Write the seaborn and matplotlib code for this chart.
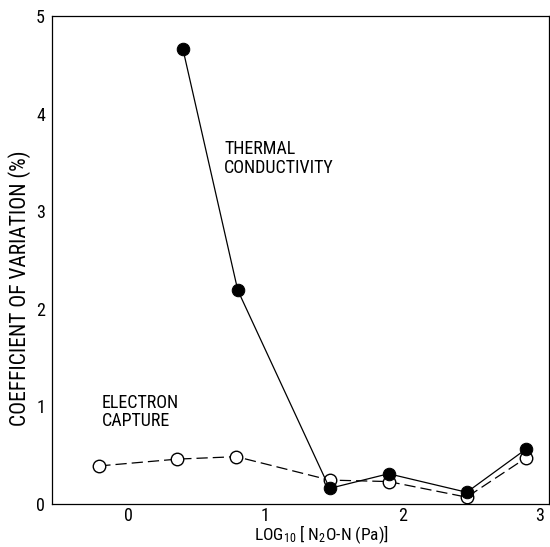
import matplotlib
matplotlib.use("Agg")
import matplotlib.pyplot as plt
import seaborn as sns
import pandas as pd

sns.set_theme(style="white")
plt.rcParams['font.family'] = ['Roboto Condensed', 'DejaVu Sans']
plt.rcParams['mathtext.fontset'] = 'custom'
plt.rcParams['mathtext.rm'] = 'Roboto Condensed'
plt.rcParams['mathtext.it'] = 'Roboto Condensed'
plt.rcParams['mathtext.default'] = 'regular'
plt.rcParams['text.color'] = 'black'

tc_x = [0.40, 0.80, 1.47, 1.90, 2.47, 2.90]
tc_y = [4.66, 2.19, 0.16, 0.31, 0.12, 0.56]
ec_x = [-0.21, 0.36, 0.79, 1.47, 1.90, 2.47, 2.90]
ec_y = [0.39, 0.46, 0.485, 0.245, 0.23, 0.07, 0.47]

xticks = [0, 1, 2, 3]
yticks = [0, 1, 2, 3, 4, 5]

tc = pd.DataFrame({"x": tc_x, "y": tc_y})
ec = pd.DataFrame({"x": ec_x, "y": ec_y})

fig = plt.figure(figsize=(5.5, 5.47), dpi=100)
ax = fig.add_axes([52/550, 1-504/547, (549-52)/550, (504-16)/547])

sns.lineplot(data=ec, x="x", y="y", ax=ax, sort=False, color="black",
             linewidth=0.9, linestyle=(0, (9, 4)), marker="o", markersize=9,
             markerfacecolor="white", markeredgecolor="black", markeredgewidth=1.0)
sns.lineplot(data=tc, x="x", y="y", ax=ax, sort=False, color="black",
             linewidth=0.9, marker="o", markersize=9,
             markerfacecolor="black", markeredgecolor="black")

ax.set_xlim(-0.555, 3.07)
ax.set_ylim(0, 5)
ax.set_xticks(xticks)
ax.set_yticks(yticks)
ax.tick_params(direction="in", length=4, width=0.8, labelsize=13, colors="black")
ax.tick_params(axis="x", pad=2)
ax.tick_params(axis="y", pad=5)
for s in ax.spines.values():
    s.set_color("black")
    s.set_linewidth(0.9)
ax.set_xlabel("")
ax.set_ylabel("")

fig.text(20/550, 1-288/547, "COEFFICIENT OF VARIATION (%)", fontsize=15.5,
         rotation=90, ha="center", va="center")

ax.text(0.70, 3.73, "THERMAL\nCONDUCTIVITY", fontsize=13, va="top", ha="left", linespacing=1.05)
ax.text(-0.19, 1.13, "ELECTRON\nCAPTURE", fontsize=13, va="top", ha="left", linespacing=1.05)

fig.text(321/550, 1-540/547, r"LOG$_{10}$ [ N$_{2}$O-N (Pa)]", fontsize=12.5, ha="center", va="baseline")

fig.savefig("out.png", dpi=100)
